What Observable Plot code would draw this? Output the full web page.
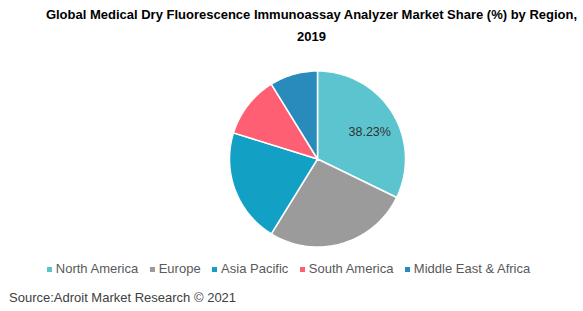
<!DOCTYPE html>
<html><head><meta charset="utf-8">
<script src="https://cdn.jsdelivr.net/npm/d3@7"></script>
<script src="https://cdn.jsdelivr.net/npm/@observablehq/plot@0.6"></script>
<style>
body{margin:0;background:#fff;font-family:"Liberation Sans",Arial,sans-serif;}
#wrap{position:relative;width:583px;height:311px;overflow:hidden;}
#title{position:absolute;left:40px;width:543px;top:4px;text-align:center;font-weight:bold;font-size:13px;line-height:22px;color:#000;}
#legend{position:absolute;left:0;width:577px;top:261px;display:flex;justify-content:center;font-size:13px;color:#595959;}
#legend span.item{margin:0 5.75px;display:flex;align-items:center;white-space:nowrap;}
#legend span.sw{display:inline-block;width:5px;height:5px;margin-right:4px;margin-top:2px;}
#source{position:absolute;left:9px;top:290px;font-size:13px;color:#404040;}
#chart{position:absolute;left:0;top:0;}
</style></head>
<body><div id="wrap"><div id="chart"></div><div id="title"></div><div id="legend"></div><div id="source"></div></div>
<script>
const titleText = "Global Medical Dry Fluorescence Immunoassay Analyzer Market Share (%) by Region, 2019";
const sourceText = "Source:Adroit Market Research \u00a9 2021";
const regions = ["North America","Europe","Asia Pacific","South America","Middle East & Africa"];
const shares = [32.2, 26.6, 21.0, 11.4, 8.8];
const labels = ["38.23%", "", "", "", ""];
const colors = ["#5BC4CF","#9B9B9B","#12A0C5","#FE5F73","#298BBB"];

document.getElementById("title").textContent = titleText;
document.getElementById("source").textContent = sourceText;

const pie = d3.pie().sort(null).value(d => d.share)(regions.map((r,i)=>({region:r, share:shares[i], label:labels[i]})));
const pts = [];
for (const a of pie) {
  const n = Math.max(8, Math.ceil((a.endAngle - a.startAngle) * 40));
  pts.push({region:a.data.region, x:0, y:0});
  for (let k=0;k<=n;k++){
    const t = a.startAngle + (a.endAngle - a.startAngle)*k/n;
    pts.push({region:a.data.region, x:Math.sin(t), y:Math.cos(t)});
  }
  pts.push({region:a.data.region, x:0, y:0});
}
const lab = pie.filter(a=>a.data.label).map(a=>{const m=(a.startAngle+a.endAngle)/2; return {x:0.66*Math.sin(m), y:0.66*Math.cos(m), label:a.data.label};});

const cx = 317, cy = 158.5, R = 88;
const plot = Plot.plot({
  width:583, height:311, margin:0,
  x:{domain:[-1,1], range:[cx-R,cx+R], axis:null},
  y:{domain:[-1,1], range:[cy+R,cy-R], axis:null},
  color:{domain:regions, range:colors},
  style:{background:"transparent"},
  marks:[
    Plot.line(pts,{x:"x",y:"y",z:"region",fill:"region",stroke:"white",strokeWidth:1.5,strokeLinejoin:"round"}),
    Plot.text(lab,{x:"x",y:"y",text:"label",dx:3,dy:4,fontSize:12.5,fill:"#333",fontFamily:"Liberation Sans, Arial, sans-serif"})
  ]
});
document.getElementById("chart").appendChild(plot);

const lg = document.getElementById("legend");
regions.forEach((r,i)=>{
  const s=document.createElement("span"); s.className="item";
  const sw=document.createElement("span"); sw.className="sw"; sw.style.background=colors[i];
  s.appendChild(sw); s.appendChild(document.createTextNode(r)); lg.appendChild(s);
});
</script></body></html>
